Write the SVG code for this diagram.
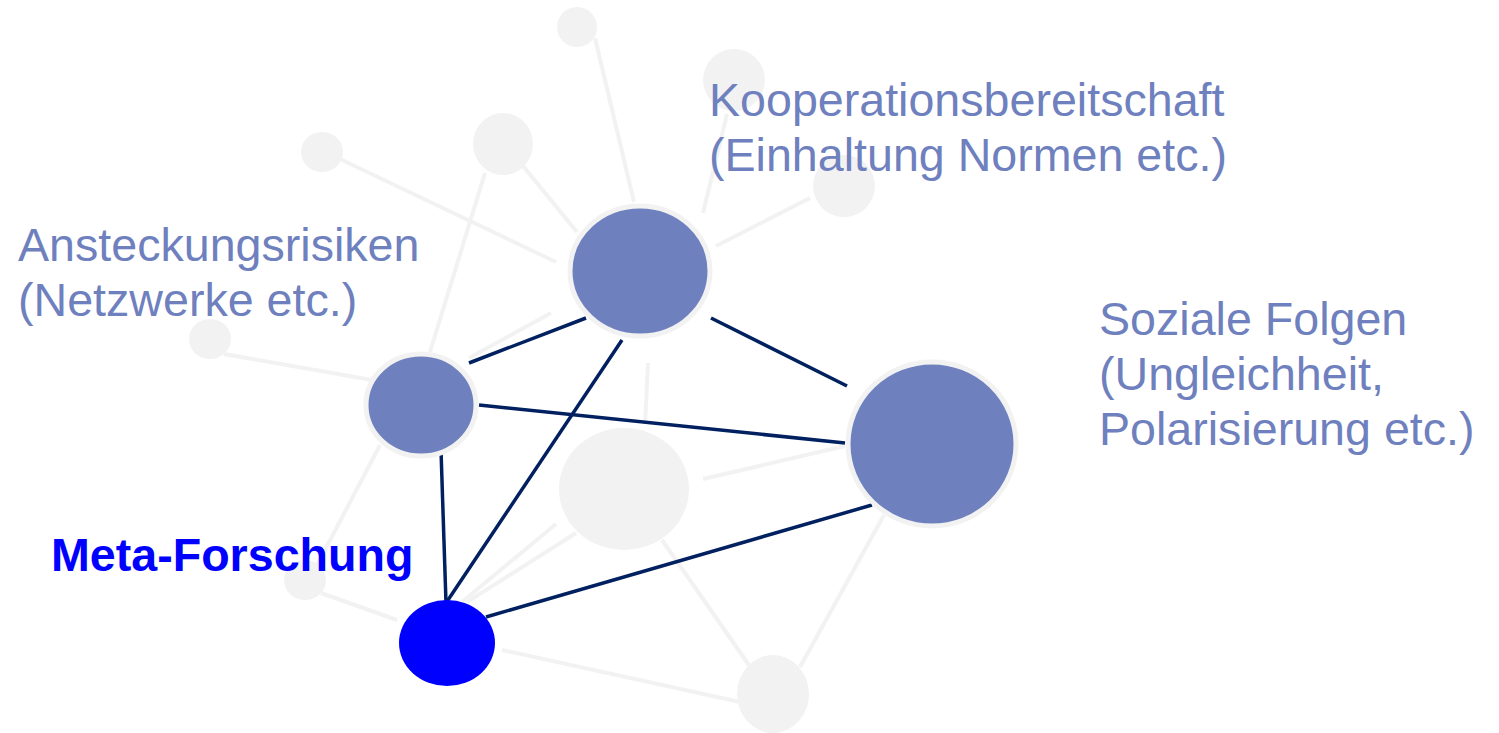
<svg xmlns="http://www.w3.org/2000/svg" width="1499" height="733" viewBox="0 0 1499 733">
<style>
.bg{fill:#ffffff}
.ge{stroke:#f2f2f2;stroke-width:4;fill:none}
.ne{stroke:#002060;stroke-width:3.5;fill:none}
.gn{fill:#f2f2f2}
.bn{fill:#6f80be;stroke:#f2f2f2;stroke-width:5}
.mn{fill:#0000ff}
.lbl{font-family:"Liberation Sans",Arial,sans-serif;font-size:46.6px;fill:#6f80be}
.meta{font-family:"Liberation Sans",Arial,sans-serif;font-size:46.6px;font-weight:bold;fill:#0000ff}
</style>
<rect class="bg" x="0" y="0" width="1499" height="733"/>
<g id="connectors-grey">
<line class="ge" x1="595" y1="38" x2="634" y2="202"/>
<line class="ge" x1="727" y1="114" x2="703" y2="213"/>
<line class="ge" x1="523" y1="166" x2="577" y2="232"/>
<line class="ge" x1="485" y1="173" x2="430" y2="352"/>
<line class="ge" x1="340" y1="159" x2="556" y2="262"/>
<line class="ge" x1="810" y1="198" x2="716" y2="246"/>
<line class="ge" x1="551" y1="313" x2="469" y2="358"/>
<line class="ge" x1="224" y1="354" x2="372" y2="380"/>
<line class="ge" x1="648" y1="363" x2="645" y2="424"/>
<line class="ge" x1="380" y1="445" x2="316" y2="567"/>
<line class="ge" x1="321" y1="593" x2="397" y2="620"/>
<line class="ge" x1="462" y1="602" x2="556" y2="524"/>
<line class="ge" x1="467" y1="602" x2="576" y2="533"/>
<line class="ge" x1="502" y1="650" x2="740" y2="702"/>
<line class="ge" x1="662" y1="540" x2="751" y2="668"/>
<line class="ge" x1="884" y1="515" x2="800" y2="667"/>
<line class="ge" x1="703" y1="479" x2="845" y2="446"/>
</g>
<g id="node-g1"><ellipse class="gn" cx="577" cy="27" rx="20" ry="20"/></g>
<g id="node-g2"><ellipse class="gn" cx="734" cy="80" rx="31" ry="31"/></g>
<g id="node-g3"><ellipse class="gn" cx="503" cy="144" rx="30" ry="31"/></g>
<g id="node-g4"><ellipse class="gn" cx="322" cy="152" rx="21" ry="20"/></g>
<g id="node-g5"><ellipse class="gn" cx="844" cy="186" rx="31" ry="31"/></g>
<g id="node-g6"><ellipse class="gn" cx="210" cy="339" rx="21" ry="20"/></g>
<g id="node-g7"><ellipse class="gn" cx="624" cy="489" rx="65" ry="61"/></g>
<g id="node-g8"><ellipse class="gn" cx="305" cy="580" rx="21" ry="20"/></g>
<g id="node-g9"><ellipse class="gn" cx="773" cy="694" rx="36" ry="39"/></g>
<g id="connectors">
<line class="ne" x1="469" y1="363" x2="586" y2="318"/>
<line class="ne" x1="711" y1="318" x2="847" y2="386"/>
<line class="ne" x1="622" y1="340" x2="446" y2="603"/>
<line class="ne" x1="479" y1="405" x2="845" y2="443"/>
<line class="ne" x1="441" y1="450" x2="446" y2="603"/>
<line class="ne" x1="486" y1="617" x2="872" y2="505"/>
</g>
<g id="node-kooperation"><ellipse class="bn" cx="640" cy="271" rx="70" ry="65"/></g>
<g id="node-ansteckung"><ellipse class="bn" cx="421" cy="405" rx="55" ry="51"/></g>
<g id="node-soziale"><ellipse class="bn" cx="932" cy="444" rx="84" ry="82"/></g>
<g id="node-meta"><ellipse class="mn" cx="447" cy="643" rx="48" ry="43"/></g>
<g id="labels">
<text class="lbl" x="709" y="116">Kooperationsbereitschaft</text>
<text class="lbl" x="709" y="171">(Einhaltung Normen etc.)</text>
<text class="lbl" x="18" y="261">Ansteckungsrisiken</text>
<text class="lbl" x="18" y="316">(Netzwerke etc.)</text>
<text class="lbl" x="1099" y="335">Soziale Folgen</text>
<text class="lbl" x="1099" y="390">(Ungleichheit,</text>
<text class="lbl" x="1099" y="445">Polarisierung etc.)</text>
<text class="meta" x="51" y="571">Meta-Forschung</text>
</g>
</svg>
